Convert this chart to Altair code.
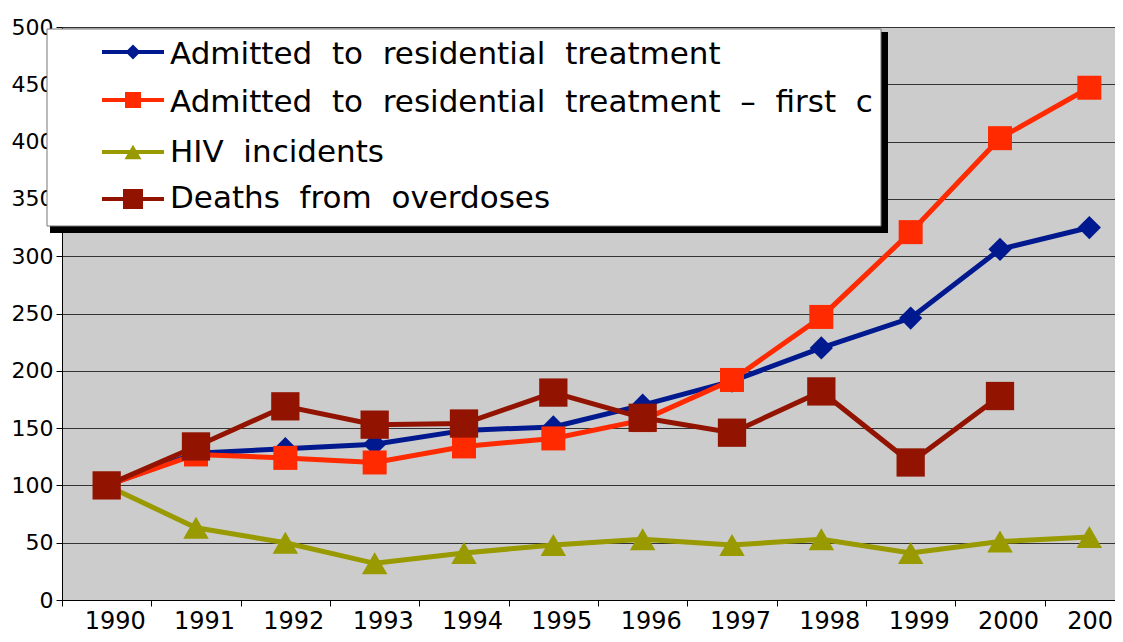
import altair as alt
import pandas as pd

years = ["1990", "1991", "1992", "1993", "1994", "1995", "1996", "1997", "1998", "1999", "2000", "2001"]
admitted = [100, 128, 132, 136, 148, 151, 170, 191, 220, 246, 306, 325]
first_contact = [100, 127, 124, 120, 134, 141, 157, 192, 247, 321, 403, 447]
hiv = [100, 63, 50, 32, 41, 48, 53, 48, 53, 41, 51, 55]
deaths = [100, 134, 169, 153, 154, 181, 159, 146, 182, 120, 178]  # no value for 2001

series_names = [
    "Admitted to residential treatment",
    "Admitted to residential treatment – first contact",
    "HIV incidents",
    "Deaths from overdoses",
]
series_values = [admitted, first_contact, hiv, deaths]
y_ticks = [0, 50, 100, 150, 200, 250, 300, 350, 400, 450, 500]

colors = ["#00198F", "#FF2A00", "#999900", "#921400"]
shapes = ["diamond", "square", "triangle-up", "square"]
sizes = [540, 576, 650, 800]
legend_sizes = [225, 256, 289, 400]

rows = []
for name, vals in zip(series_names, series_values):
    for yr, v in zip(years, vals):
        rows.append({"series": name, "year": yr, "value": v})
df = pd.DataFrame(rows)

FONT = "DejaVu Sans"

x_enc = alt.X(
    "year:O",
    bandPosition=0.5,
    scale=alt.Scale(type="band", domain=years, range=[0, 1072], paddingInner=0, paddingOuter=0),
    axis=alt.Axis(
        title=None, labelAngle=0, grid=False, tickBand="extent", tickSize=6,
        labelPadding=3, labelOffset=8, labelFontSize=24, labelFont=FONT,
        labelColor="black", domainColor="black", tickColor="black",
        labelBaseline="top", labelOverlap=False,
    ),
)
y_enc = alt.Y(
    "value:Q",
    scale=alt.Scale(domain=[0, 500], nice=False),
    axis=alt.Axis(
        title=None, values=y_ticks, grid=True, gridColor="#333333", gridWidth=1,
        tickSize=6, labelPadding=3, labelFontSize=22, labelFont=FONT,
        labelColor="black", domainColor="black", tickColor="black",
    ),
)

layers = []
for name, col, shp, sz in zip(series_names, colors, shapes, sizes):
    base = alt.Chart(df).transform_filter(alt.datum.series == name)
    layers.append(base.mark_line(color=col, strokeWidth=5).encode(x=x_enc, y=y_enc))
    layers.append(
        base.mark_point(shape=shp, size=sz, filled=True, color=col, opacity=1).encode(x=x_enc, y=y_enc)
    )

# Legend box (drawn manually, with shadow)
one = pd.DataFrame({"k": [0]})
layers.append(
    alt.Chart(one).mark_rect(color="black").encode(
        x=alt.value(-12), x2=alt.value(826), y=alt.value(5), y2=alt.value(206)
    )
)
layers.append(
    alt.Chart(one).mark_rect(fill="white", stroke="#777777", strokeWidth=1).encode(
        x=alt.value(-15), x2=alt.value(819), y=alt.value(2), y2=alt.value(199)
    )
)

marker_y = [25, 73, 125, 172]
text_y = [37, 85, 135, 181]
for name, col, shp, lsz, my, ty in zip(series_names, colors, shapes, legend_sizes, marker_y, text_y):
    lab = pd.DataFrame({"label": [name.replace(" ", " \u00a0")]})
    layers.append(
        alt.Chart(lab).mark_rule(color=col, strokeWidth=4).encode(
            x=alt.value(40), x2=alt.value(102), y=alt.value(my)
        )
    )
    layers.append(
        alt.Chart(lab).mark_point(shape=shp, size=lsz, filled=True, color=col, opacity=1).encode(
            x=alt.value(71), y=alt.value(my)
        )
    )
    layers.append(
        alt.Chart(lab).mark_text(
            align="left", baseline="alphabetic", fontSize=31, font=FONT, color="black",
            limit=710, ellipsis="\u200b",
        ).encode(x=alt.value(108), y=alt.value(ty), text="label:N")
    )

chart = (
    alt.layer(*layers)
    .properties(
        width=1053,
        height=573,
        autosize=alt.AutoSizeParams(type="none"),
        padding={"left": 54, "top": 19, "right": 0, "bottom": 34},
        background="white",
    )
    .configure_view(fill="#CCCCCC", strokeWidth=0)
)

chart.save("out.html", embed_options={"renderer": "svg", "actions": False})
